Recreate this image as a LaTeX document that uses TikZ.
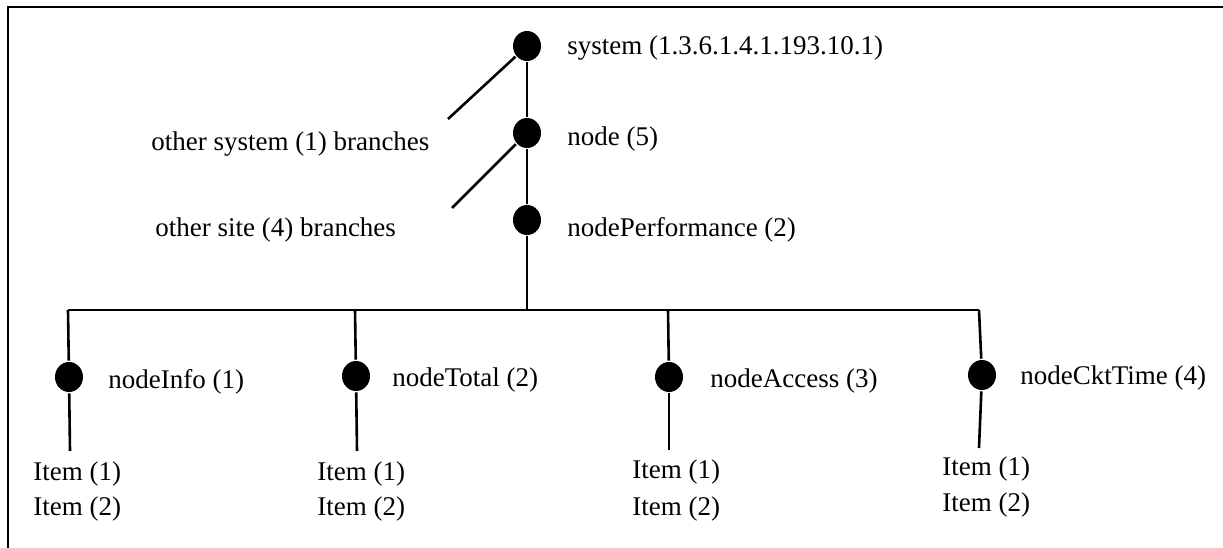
\documentclass[tikz,border=0pt]{standalone}
\usepackage{fontspec}
\setmainfont{Liberation Serif}
\usetikzlibrary{shapes.geometric}
\begin{document}
\begin{tikzpicture}[x=1pt,y=-1pt,
  line width=2.6pt,
  dot/.style={ellipse,fill=black,draw=none,minimum width=28pt,minimum height=30pt,inner sep=0pt},
  lbl/.style={anchor=west,inner sep=0pt,yshift=-2.5pt,font=\fontsize{27}{31}\selectfont}]
\useasboundingbox (0,0) rectangle (1223,548);
% frame (top and left edges)
\draw (1223,7) -- (8,7) -- (8,548);

% main spine
\node[dot] (sys)  at (527,46)  {};
\node[dot] (nd)   at (527,133) {};
\node[dot] (perf) at (527,220) {};
\node[lbl] (lsys)  at (566,46)  {system (1.3.6.1.4.1.193.10.1)};
\node[lbl] (lnd)   at (566,137) {node (5)};
\node[lbl] (lperf) at (566,227) {nodePerformance (2)};

% side branches
\coordinate (osys) at (448,119);
\coordinate (osite) at (452,208);
\node[lbl] (losys)  at (150,142) {other system (1) branches};
\node[lbl] (losite) at (154,228) {other site (4) branches};
\draw (sys) -- (osys);
\draw (nd) -- (osite);
\draw (sys) -- (nd) -- (perf);

% distribution bar
\coordinate (bt) at (527,310);
\coordinate (b1) at (68,310);
\coordinate (b2) at (355,310);
\coordinate (b3) at (668,310);
\coordinate (b4) at (979,310);
\draw (perf) -- (bt);
\draw (b1) -- (b4);

% children
\node[dot] (c1) at (69,377)  {};
\node[dot] (c2) at (356,376) {};
\node[dot] (c3) at (669,377) {};
\node[dot] (c4) at (982,375) {};
\node[lbl] (lc1) at (107,379) {nodeInfo (1)};
\node[lbl] (lc2) at (391,378) {nodeTotal (2)};
\node[lbl] (lc3) at (709,379) {nodeAccess (3)};
\node[lbl] (lc4) at (1019,376) {nodeCktTime (4)};
\draw (b1) -- (c1);
\draw (b2) -- (c2);
\draw (b3) -- (c3);
\draw (b4) -- (c4);

% leaf stems
\coordinate (e1) at (70,451);
\coordinate (e2) at (357,451);
\coordinate (e3) at (669,450);
\coordinate (e4) at (979,448);
\draw (c1) -- (e1);
\draw (c2) -- (e2);
\draw (c3) -- (e3);
\draw (c4) -- (e4);

% items
\node[lbl] (i11) at (32,472)  {Item (1)};
\node[lbl] (i12) at (32,507)  {Item (2)};
\node[lbl] (i21) at (316,472) {Item (1)};
\node[lbl] (i22) at (316,507) {Item (2)};
\node[lbl] (i31) at (631,470) {Item (1)};
\node[lbl] (i32) at (631,507) {Item (2)};
\node[lbl] (i41) at (941,467) {Item (1)};
\node[lbl] (i42) at (941,503) {Item (2)};
\end{tikzpicture}
\end{document}
